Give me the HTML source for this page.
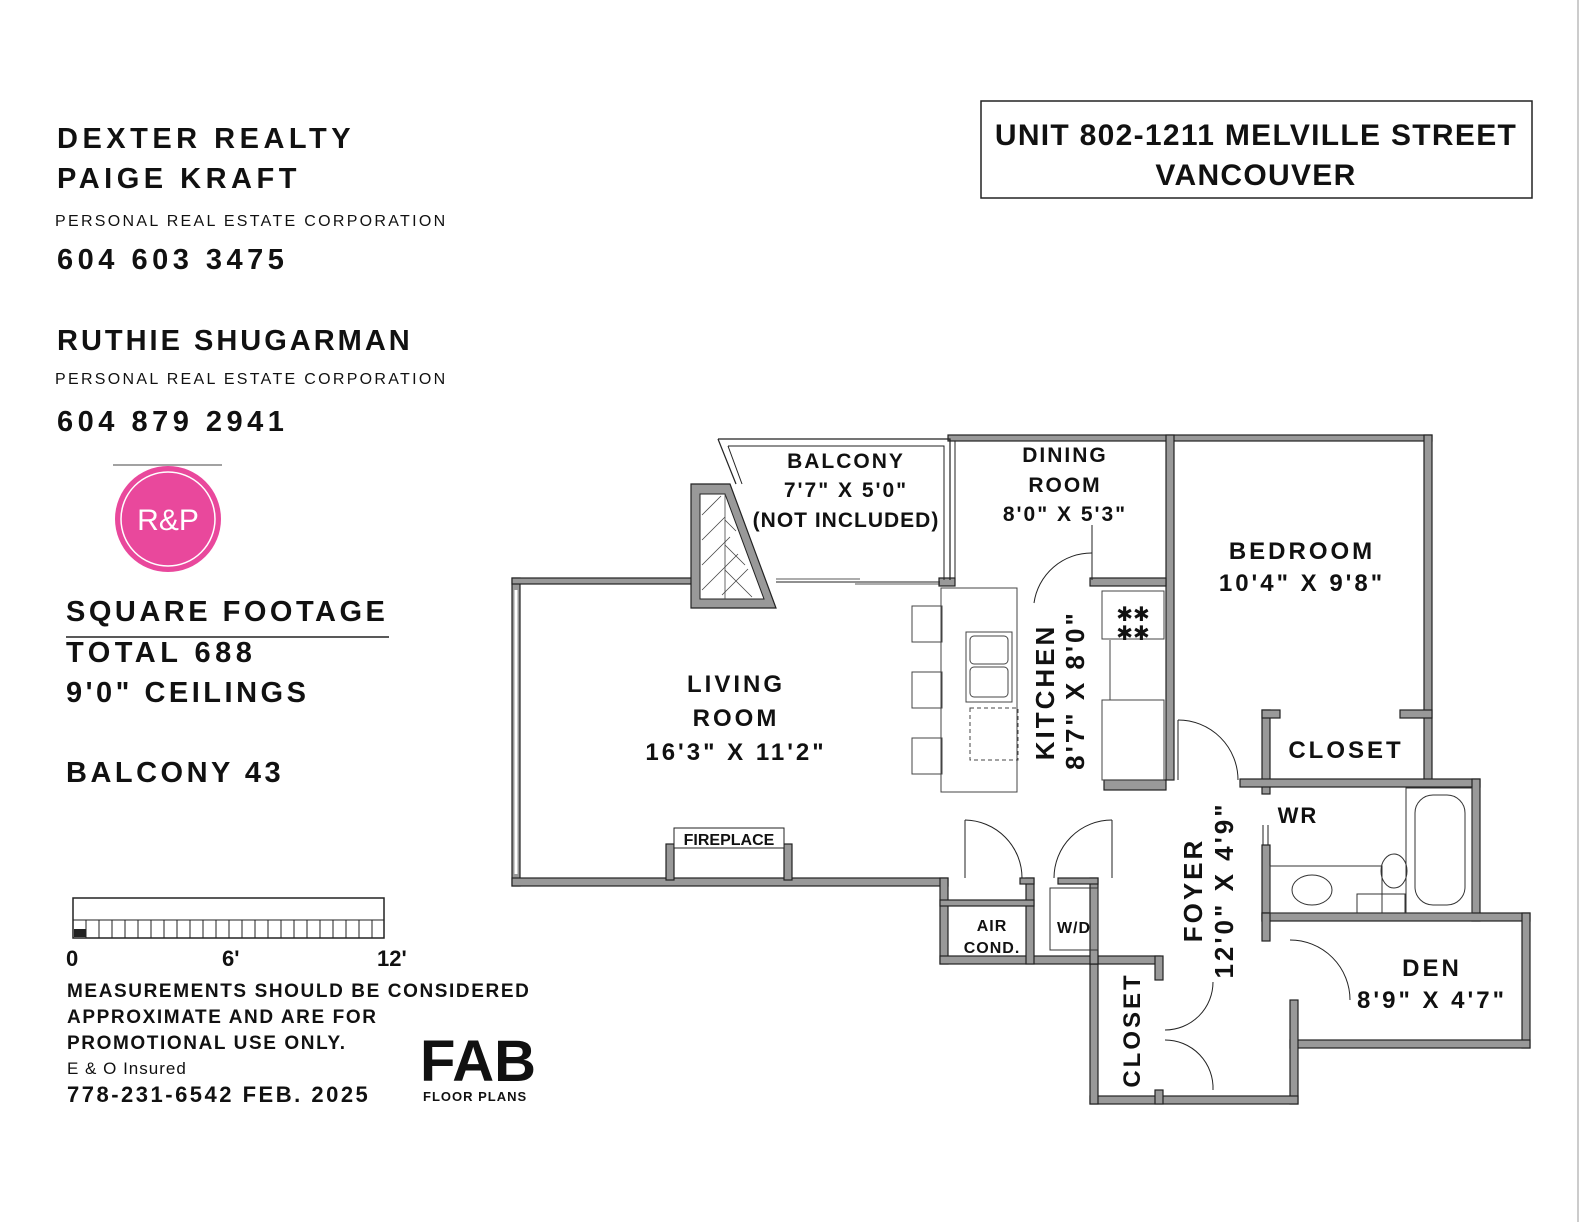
<!DOCTYPE html>
<html><head><meta charset="utf-8"><style>
html,body{margin:0;padding:0;background:#fff;}
svg{display:block;}
text{font-family:"Liberation Sans",sans-serif;fill:#111;}
</style></head><body>
<svg width="1582" height="1222" viewBox="0 0 1582 1222" xmlns="http://www.w3.org/2000/svg">
<rect width="1582" height="1222" fill="#fff"/>
<line x1="1578" y1="0" x2="1578" y2="1222" stroke="#ccc" stroke-width="2"/>
<!-- header box -->
<rect x="981" y="101" width="551" height="97" fill="none" stroke="#222" stroke-width="1.5"/>
<text x="1256" y="145" text-anchor="middle" font-size="30" font-weight="bold" letter-spacing="1.3">UNIT 802-1211 MELVILLE STREET</text>
<text x="1256" y="185" text-anchor="middle" font-size="30" font-weight="bold" letter-spacing="1.3">VANCOUVER</text>
<!-- left text -->
<g font-weight="bold">
<text x="57" y="148" font-size="29" letter-spacing="4.5">DEXTER REALTY</text>
<text x="57" y="188" font-size="29" letter-spacing="4.5">PAIGE KRAFT</text>
<text x="55" y="226" font-size="16" letter-spacing="2.3" font-weight="normal">PERSONAL REAL ESTATE CORPORATION</text>
<text x="57" y="269" font-size="29" letter-spacing="4.5">604 603 3475</text>
<text x="57" y="350" font-size="29" letter-spacing="3">RUTHIE SHUGARMAN</text>
<text x="55" y="384" font-size="16" letter-spacing="2.3" font-weight="normal">PERSONAL REAL ESTATE CORPORATION</text>
<text x="57" y="431" font-size="29" letter-spacing="4.5">604 879 2941</text>
<text x="66" y="621" font-size="29" letter-spacing="3.5">SQUARE FOOTAGE</text>
<text x="66" y="662" font-size="29" letter-spacing="4.5">TOTAL 688</text>
<text x="66" y="702" font-size="29" letter-spacing="3.5">9'0" CEILINGS</text>
<text x="66" y="782" font-size="29" letter-spacing="3.5">BALCONY 43</text>
</g>
<line x1="66" y1="637" x2="389" y2="637" stroke="#222" stroke-width="1.5"/>
<!-- logo -->
<line x1="113" y1="465" x2="222" y2="465" stroke="#444" stroke-width="1"/>
<circle cx="168" cy="519" r="53" fill="#e9489c"/>
<circle cx="168" cy="519" r="47" fill="none" stroke="#fff" stroke-width="1.5"/>
<text x="168" y="530" text-anchor="middle" font-size="30" style="fill:#fff" font-family="Liberation Serif,serif">R&amp;P</text>
<!-- scale bar -->
<rect x="73" y="898" width="311" height="40" fill="none" stroke="#222" stroke-width="1.5"/>
<line x1="73" y1="920" x2="384" y2="920" stroke="#222"/>
<g stroke="#222" stroke-width="1">
<line x1="86" y1="920" x2="86" y2="938"/><line x1="99" y1="920" x2="99" y2="938"/><line x1="112" y1="920" x2="112" y2="938"/><line x1="125" y1="920" x2="125" y2="938"/><line x1="138" y1="920" x2="138" y2="938"/><line x1="151" y1="920" x2="151" y2="938"/><line x1="164" y1="920" x2="164" y2="938"/><line x1="177" y1="920" x2="177" y2="938"/><line x1="190" y1="920" x2="190" y2="938"/><line x1="203" y1="920" x2="203" y2="938"/><line x1="216" y1="920" x2="216" y2="938"/><line x1="229" y1="920" x2="229" y2="938"/><line x1="242" y1="920" x2="242" y2="938"/><line x1="255" y1="920" x2="255" y2="938"/><line x1="268" y1="920" x2="268" y2="938"/><line x1="281" y1="920" x2="281" y2="938"/><line x1="294" y1="920" x2="294" y2="938"/><line x1="307" y1="920" x2="307" y2="938"/><line x1="320" y1="920" x2="320" y2="938"/><line x1="333" y1="920" x2="333" y2="938"/><line x1="346" y1="920" x2="346" y2="938"/><line x1="359" y1="920" x2="359" y2="938"/><line x1="372" y1="920" x2="372" y2="938"/>
</g>
<rect x="74" y="929" width="12" height="8" fill="#222"/>
<g font-weight="bold">
<text x="66" y="966" font-size="22">0</text>
<text x="222" y="966" font-size="22">6'</text>
<text x="377" y="966" font-size="22">12'</text>
<text x="67" y="997" font-size="19" letter-spacing="1.6">MEASUREMENTS SHOULD BE CONSIDERED</text>
<text x="67" y="1023" font-size="19" letter-spacing="1.6">APPROXIMATE AND ARE FOR</text>
<text x="67" y="1049" font-size="19" letter-spacing="1.6">PROMOTIONAL USE ONLY.</text>
<text x="67" y="1074" font-size="17" font-weight="normal" letter-spacing="1">E &amp; O Insured</text>
<text x="67" y="1102" font-size="22" letter-spacing="2.5">778-231-6542  FEB. 2025</text>
</g>
<!-- FAB logo -->
<text x="420" y="1081" font-size="58" font-family="Liberation Serif,serif" font-weight="bold">FAB</text>
<text x="423" y="1101" font-size="13" font-weight="bold" letter-spacing="1">FLOOR PLANS</text>

<!-- FLOOR PLAN -->
<g fill="#999" stroke="#222" stroke-width="1.2">
<rect x="512" y="578" width="8" height="308"/>
<rect x="512" y="878" width="436" height="8"/>
<rect x="512" y="578" width="180" height="6"/>
<rect x="666" y="844" width="8" height="36"/>
<rect x="784" y="844" width="8" height="36"/>
<polygon points="691,484 730,484 776,608 691,608"/>
<rect x="948" y="435" width="484" height="6"/>
<rect x="1166" y="435" width="8" height="345"/>
<rect x="1424" y="435" width="8" height="352"/>
<rect x="939" y="578" width="16" height="8"/>
<rect x="1090" y="578" width="76" height="8"/>
<rect x="1262" y="710" width="8" height="84"/>
<rect x="1262" y="710" width="18" height="8"/>
<rect x="1400" y="710" width="32" height="8"/>
<rect x="1240" y="779" width="240" height="8"/>
<rect x="1104" y="780" width="62" height="10"/>
<rect x="1472" y="779" width="8" height="142"/>
<rect x="1262" y="845" width="8" height="76"/>
<rect x="1262" y="913" width="268" height="8"/>
<rect x="1522" y="913" width="8" height="135"/>
<rect x="1290" y="1040" width="240" height="8"/>
<rect x="1290" y="1000" width="8" height="104"/>
<rect x="1262" y="913" width="8" height="28"/>
<rect x="1090" y="1096" width="208" height="8"/>
<rect x="1090" y="956" width="8" height="148"/>
<rect x="1090" y="956" width="70" height="8"/>
<rect x="1155" y="956" width="8" height="24"/>
<rect x="1155" y="1090" width="8" height="14"/>
<rect x="940" y="878" width="8" height="86"/>
<rect x="940" y="956" width="158" height="8"/>
<rect x="1026" y="878" width="8" height="86"/>
<rect x="1090" y="878" width="8" height="86"/>
<rect x="1058" y="878" width="40" height="6"/>
<rect x="1020" y="878" width="14" height="6"/>
<rect x="940" y="900" width="94" height="6"/>
</g>
<polygon points="700,494 725,494 764,599 700,599" fill="#fff" stroke="#222" stroke-width="1"/>
<g stroke="#444" stroke-width="0.8">
<line x1="702" y1="515" x2="721" y2="496"/><line x1="702" y1="540" x2="725" y2="517"/><line x1="702" y1="565" x2="730" y2="537"/><line x1="702" y1="590" x2="738" y2="554"/><line x1="722" y1="595" x2="748" y2="569"/>
<line x1="725" y1="494" x2="725" y2="599"/>
<line x1="725" y1="520" x2="736" y2="531"/><line x1="725" y1="545" x2="745" y2="565"/><line x1="725" y1="570" x2="752" y2="597"/>
</g>
<polyline points="718,439 950,439 950,580" fill="none" stroke="#222" stroke-width="1.2"/>
<polyline points="728,446 944,446 944,580" fill="none" stroke="#222" stroke-width="1"/>
<line x1="718" y1="439" x2="736" y2="484" stroke="#222" stroke-width="1.2"/>
<line x1="728" y1="446" x2="742" y2="484" stroke="#222" stroke-width="1"/>
<line x1="776" y1="582" x2="940" y2="582" stroke="#222" stroke-width="1"/>
<line x1="776" y1="579" x2="860" y2="579" stroke="#222" stroke-width="0.8"/>
<line x1="855" y1="584" x2="940" y2="584" stroke="#222" stroke-width="0.8"/>
<line x1="516" y1="590" x2="516" y2="874" stroke="#fff" stroke-width="3"/>
<line x1="955" y1="441" x2="955" y2="578" stroke="#222" stroke-width="1"/>
<g font-weight="bold" text-anchor="middle" letter-spacing="2">
<text x="846" y="468" font-size="21">BALCONY</text>
<text x="846" y="497" font-size="21">7'7" X 5'0"</text>
<text x="846" y="527" font-size="21" letter-spacing="1">(NOT INCLUDED)</text>
<text x="1065" y="462" font-size="21">DINING</text>
<text x="1065" y="492" font-size="21">ROOM</text>
<text x="1065" y="521" font-size="21">8'0" X 5'3"</text>
<text x="1302" y="559" font-size="24" letter-spacing="3">BEDROOM</text>
<text x="1302" y="591" font-size="24" letter-spacing="3">10'4" X 9'8"</text>
<text x="736" y="692" font-size="24" letter-spacing="3">LIVING</text>
<text x="736" y="726" font-size="24" letter-spacing="3">ROOM</text>
<text x="736" y="760" font-size="24" letter-spacing="3">16'3" X 11'2"</text>
<text x="1346" y="758" font-size="24" letter-spacing="3">CLOSET</text>
<text x="1298" y="823" font-size="22">WR</text>
<text x="1432" y="976" font-size="24" letter-spacing="3">DEN</text>
<text x="1432" y="1008" font-size="24" letter-spacing="3">8'9" X 4'7"</text>
<text x="992" y="931" font-size="16" letter-spacing="1">AIR</text>
<text x="992" y="953" font-size="16" letter-spacing="1">COND.</text>
<text x="1074" y="933" font-size="16" letter-spacing="1">W/D</text>
</g>
<rect x="674" y="828" width="110" height="20" fill="#fff" stroke="#222" stroke-width="1"/>
<text x="729" y="845" font-size="16" font-weight="bold" text-anchor="middle">FIREPLACE</text>
<g font-weight="bold" text-anchor="middle" letter-spacing="3">
<text transform="translate(1054,692) rotate(-90)" font-size="26">KITCHEN</text>
<text transform="translate(1084,690) rotate(-90)" font-size="26">8'7" X 8'0"</text>
<text transform="translate(1202,890) rotate(-90)" font-size="26">FOYER</text>
<text transform="translate(1233,890) rotate(-90)" font-size="26">12'0" X 4'9"</text>
<text transform="translate(1140,1030) rotate(-90)" font-size="24">CLOSET</text>
</g>
<rect x="941" y="588" width="76" height="204" fill="none" stroke="#444" stroke-width="1"/>
<rect x="966" y="632" width="46" height="70" fill="none" stroke="#444" stroke-width="1"/>
<rect x="970" y="636" width="38" height="28" rx="4" fill="none" stroke="#444"/>
<rect x="970" y="667" width="38" height="30" rx="4" fill="none" stroke="#444"/>
<rect x="970" y="708" width="48" height="52" fill="none" stroke="#444" stroke-dasharray="4,3"/>
<g fill="none" stroke="#444"><path d="M912,606 h30 v36 h-30 z"/><path d="M912,672 h30 v36 h-30 z"/><path d="M912,738 h30 v36 h-30 z"/></g>
<rect x="1102" y="591" width="62" height="48" fill="none" stroke="#444"/>
<text x="1133" y="621" font-size="20" text-anchor="middle">✱✱</text>
<text x="1133" y="640" font-size="20" text-anchor="middle">✱✱</text>
<line x1="1110" y1="640" x2="1110" y2="700" stroke="#444"/>
<rect x="1102" y="700" width="62" height="80" fill="none" stroke="#444"/>
<g fill="none" stroke="#222" stroke-width="1">
<path d="M1092,553 A58,58 0 0 0 1034,603"/><line x1="1092" y1="525" x2="1092" y2="580"/>
<path d="M1178,720 A60,60 0 0 1 1238,780"/><line x1="1178" y1="720" x2="1178" y2="780"/>
<path d="M965,820 A58,58 0 0 1 1022,878"/><line x1="965" y1="820" x2="965" y2="878"/>
<path d="M1112,820 A58,58 0 0 0 1054,878"/><line x1="1112" y1="820" x2="1112" y2="878"/>
<path d="M1290,940 A60,60 0 0 1 1350,1000"/>
<path d="M1213,982 A48,48 0 0 1 1165,1030"/>
<path d="M1213,1090 A48,48 0 0 0 1165,1040"/>
<line x1="1263" y1="825" x2="1263" y2="845"/><line x1="1268" y1="825" x2="1268" y2="845"/>
</g>
<g fill="none" stroke="#333" stroke-width="1">
<rect x="1270" y="866" width="112" height="47"/>
<ellipse cx="1312" cy="890" rx="20" ry="15"/>
<ellipse cx="1394" cy="871" rx="13" ry="17"/>
<rect x="1357" y="894" width="48" height="19"/>
<rect x="1406" y="788" width="66" height="125"/>
<rect x="1415" y="795" width="50" height="110" rx="18"/>
<rect x="1050" y="888" width="48" height="62"/>
</g>
</svg>
</body></html>
